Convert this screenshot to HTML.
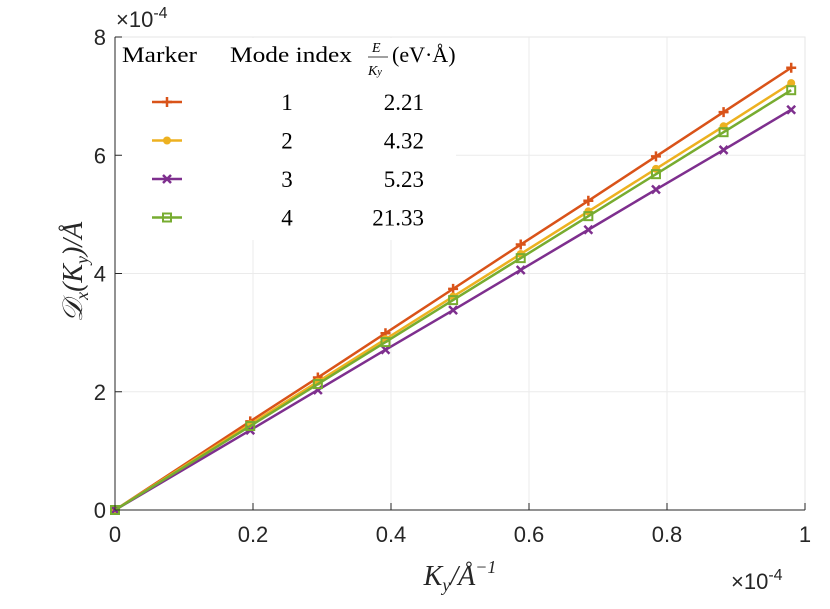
<!DOCTYPE html>
<html><head><meta charset="utf-8"><style>
body{margin:0;background:#fff;}
svg text{font-family:"Liberation Sans",sans-serif;}
.serif{font-family:"Liberation Serif",serif;}
</style></head><body>
<svg width="830" height="604" xmlns="http://www.w3.org/2000/svg">
<g id="grid"></g>
<rect x="115" y="37" width="690" height="473" fill="none" stroke="#e6e6e6"/>
<g id="series"></g>
<g id="legend"></g>
<g id="axes"></g>
<text x="731" y="589" font-size="22" fill="#262626">×10<tspan font-size="16" dy="-9">-4</tspan></text>
<text x="116" y="27" font-size="22" fill="#262626">×10<tspan font-size="16" dy="-9">-4</tspan></text>
<text x="460" y="585" font-size="28" class="serif" font-style="italic" text-anchor="middle" fill="#262626">K<tspan font-size="18" dy="6">y</tspan><tspan dy="-6">/Å</tspan><tspan font-size="18" dy="-12">−1</tspan></text>
<text transform="translate(82,272) rotate(-90)" font-size="28" class="serif" font-style="italic" text-anchor="middle" fill="#262626">𝒟<tspan font-size="18" dy="6">x</tspan><tspan dy="-6">(K</tspan><tspan font-size="18" dy="6">y</tspan><tspan dy="-6">)/Å</tspan></text>
</svg>
<script>
const xs=[0,0.196,0.294,0.392,0.49,0.588,0.686,0.784,0.882,0.98];
const s1=[0,1.50,2.24,2.99,3.74,4.49,5.23,5.98,6.73,7.48];
const s2=[0,1.45,2.17,2.89,3.61,4.33,5.05,5.77,6.49,7.22];
const s3=[0,1.35,2.03,2.71,3.38,4.06,4.74,5.42,6.09,6.77];
const s4=[0,1.42,2.13,2.84,3.55,4.26,4.97,5.68,6.39,7.10];
const xTicks=[0,0.2,0.4,0.6,0.8,1];
const xTickLabels=["0","0.2","0.4","0.6","0.8","1"];
const yTicks=[0,2,4,6,8];
const yTickLabels=["0","2","4","6","8"];
const modeIdx=["1","2","3","4"];
const ratios=["2.21","4.32","5.23","21.33"];
const NS="http://www.w3.org/2000/svg";
const X=v=>115+v*690, Y=v=>510-v*(473/8);
function mk(t,a,p){const e=document.createElementNS(NS,t);for(const k in a)e.setAttribute(k,a[k]);p.appendChild(e);return e;}
const grid=document.getElementById('grid'),axes=document.getElementById('axes'),ser=document.getElementById('series'),leg=document.getElementById('legend');
xTicks.forEach((t,i)=>{
 const g=mk('line',{x1:X(t),x2:X(t),y1:37,y2:510,stroke:'#ebebeb'},grid);
 
 
 const tk=mk('line',{x1:X(t),x2:X(t),y1:510,y2:503,stroke:'#262626'},axes);
 
 
 const tx=mk('text',{x:X(t),y:542,'font-size':22,'text-anchor':'middle',fill:'#262626'},axes);tx.textContent=xTickLabels[i];
 
 
});
yTicks.forEach((t,i)=>{
 const g=mk('line',{x1:115,x2:805,y1:Y(t),y2:Y(t),stroke:'#ebebeb'},grid);
 
 
 const tk=mk('line',{x1:115,x2:122,y1:Y(t),y2:Y(t),stroke:'#262626'},axes);
 
 
 const tx=mk('text',{x:106,y:Y(t)+8,'font-size':22,'text-anchor':'end',fill:'#262626'},axes);tx.textContent=yTickLabels[i];
 
 
});
const xa=mk('line',{x1:115,x2:805,y1:510,y2:510,stroke:'#262626'},axes);


const ya=mk('line',{x1:115,x2:115,y1:37,y2:510,stroke:'#262626'},axes);


function marker(type,x,y,c,p){
 let e;
 if(type==='plus'){e=mk('path',{d:`M${x-5} ${y}H${x+5}M${x} ${y-5}V${y+5}`,stroke:c,'stroke-width':2.5},p);}
 else if(type==='circle'){e=mk('circle',{cx:x,cy:y,r:4,fill:c},p);}
 else if(type==='x'){e=mk('path',{d:`M${x-4} ${y-4}L${x+4} ${y+4}M${x-4} ${y+4}L${x+4} ${y-4}`,stroke:c,'stroke-width':2.5},p);}
 else {e=mk('rect',{x:x-4,y:y-4,width:8,height:8,fill:'none',stroke:c,'stroke-width':2},p);}
 return e;
}
const series=[[s1,'#d95319','plus'],[s2,'#edb120','circle'],[s3,'#7e2f8e','x'],[s4,'#77ac30','square']];
series.forEach(([d,c,m],si)=>{
 const pl=mk('polyline',{points:xs.map((x,i)=>X(x)+','+Y(d[i])).join(' '),fill:'none',stroke:c,'stroke-width':2.5},ser);
 
 
 xs.forEach((x,i)=>{const mm=marker(m,X(x),Y(d[i]),c,ser);
  
  });
});
const bg=mk('rect',{x:116,y:38,width:340,height:202,fill:'#fff'},leg);


const hdr=[['Marker',122,75],['Mode index',230,122]];
hdr.forEach(([t,x,w])=>{const e=mk('text',{x:x,y:62,'font-size':22,class:'serif',fill:'#000',textLength:w,lengthAdjust:'spacingAndGlyphs'},leg);e.textContent=t;
 
 });
const h3=mk('text',{'font-size':22,class:'serif',fill:'#000'},leg);


h3.innerHTML='<tspan x="372" y="52" font-size="14" font-style="italic">E</tspan><tspan x="368" y="75" font-size="14" font-style="italic">K<tspan font-size="10">y</tspan></tspan><tspan x="392" y="62">(eV·Å)</tspan>';
mk('line',{x1:368,x2:388,y1:57,y2:57,stroke:'#000','stroke-width':0.8},leg);
series.forEach(([d,c,m],i)=>{
 const y=102+i*38.5;
 const l=mk('line',{x1:152,x2:182,y1:y,y2:y,stroke:c,'stroke-width':2.5},leg);
 
 
 marker(m,167,y,c,leg);
 const a=mk('text',{x:287,y:y+8,'font-size':23,class:'serif','text-anchor':'middle'},leg);a.textContent=modeIdx[i];
 
 
 const b=mk('text',{x:424,y:y+8,'font-size':23,class:'serif','text-anchor':'end'},leg);b.textContent=ratios[i];
 
 
});
</script>
</body></html>
